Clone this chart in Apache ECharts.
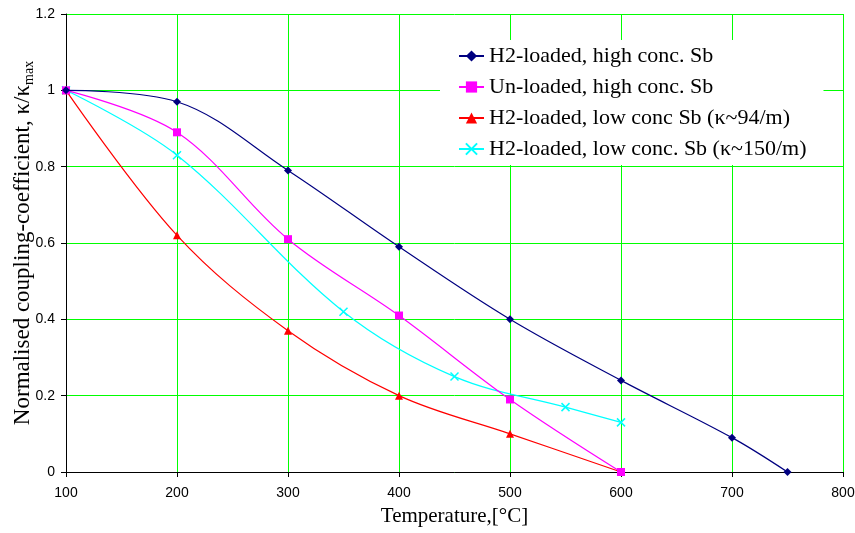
<!DOCTYPE html>
<html><head><meta charset="utf-8">
<script src="https://cdn.jsdelivr.net/npm/echarts@6/dist/echarts.min.js"></script>
<style>html,body{margin:0;padding:0;background:#fff}#c{width:855px;height:533px}</style>
</head><body><div id="c"></div>
<script>
const seriesNames = ['H2-loaded, high conc. Sb','Un-loaded, high conc. Sb','H2-loaded, low conc Sb (κ~94/m)','H2-loaded, low conc. Sb (κ~150/m)'];
const h2HighX = [100,200,300,400,500,600,700,750];
const h2HighY = [1,0.97,0.79,0.59,0.40,0.24,0.09,0];
const unHighX = [100,200,300,400,500,600];
const unHighY = [1,0.89,0.61,0.41,0.19,0];
const h2Low94X = [100,200,300,400,500,600];
const h2Low94Y = [1,0.62,0.37,0.20,0.10,0];
const h2Low150X = [100,200,350,450,550,600];
const h2Low150Y = [1,0.83,0.42,0.25,0.17,0.13];
const xTicks = [100,200,300,400,500,600,700,800];
const yTicks = [0,0.2,0.4,0.6,0.8,1,1.2];

const pair = (xs, ys) => xs.map((x,i)=>[x, ys[i]]);
const serif = 'Liberation Serif';
const sans = 'Liberation Sans';
const colors = ['#000080','#ff00ff','#ff0000','#00ffff'];
const symbols = ['diamond','rect','triangle','path://M0,0L10,10M10,0L0,10'];
const sizes = [8,8,8,8];
const data = [pair(h2HighX,h2HighY), pair(unHighX,unHighY), pair(h2Low94X,h2Low94Y), pair(h2Low150X,h2Low150Y)];

const chart = echarts.init(document.getElementById('c'));
chart.setOption({
  animation:false,
  backgroundColor:'#fff',
  grid:{left:66,right:12,top:14,bottom:61,containLabel:false,outerBoundsMode:'none'},
  legend:{
    left:440, top:40, orient:'vertical',
    backgroundColor:'#fff',
    padding:[5,17,5,18],
    itemWidth:25, itemHeight:14, itemGap:9,
    textStyle:{fontFamily:serif,fontSize:22,color:'#000'},
    data:seriesNames
  },
  xAxis:{
    type:'value', min:xTicks[0], max:xTicks[xTicks.length-1], interval:100,
    name:'Temperature,[°C]', nameLocation:'middle', nameGap:34, nameMoveOverlap:false,
    nameTextStyle:{fontFamily:serif,fontSize:21,color:'#000'},
    axisLine:{show:true,onZero:false,lineStyle:{color:'#000',width:1}},
    axisTick:{show:true,inside:false,length:5,lineStyle:{color:'#000'}},
    axisLabel:{fontFamily:sans,fontSize:14,color:'#000',margin:14},
    splitLine:{show:true,lineStyle:{color:'rgb(0,255,0)',width:1,opacity:1}}
  },
  yAxis:{
    type:'value', min:yTicks[0], max:yTicks[yTicks.length-1], interval:0.2,
    name:'{a|Normalised coupling-coefficient, κ/κ}{s|max}', nameLocation:'middle', nameGap:30, nameMoveOverlap:false,
    nameTextStyle:{
      color:'#000',
      rich:{
        a:{fontFamily:serif,fontSize:23,lineHeight:26,color:'#000'},
        s:{fontFamily:serif,fontSize:14,lineHeight:14,verticalAlign:'bottom',color:'#000'}
      }
    },
    axisLine:{show:true,onZero:false,lineStyle:{color:'#000',width:1}},
    axisTick:{show:true,inside:false,length:5,lineStyle:{color:'#000'}},
    axisLabel:{fontFamily:sans,fontSize:14,color:'#000',margin:11},
    splitLine:{show:true,lineStyle:{color:'rgb(0,255,0)',width:1,opacity:1}}
  },
  series: seriesNames.map((n,i)=>({
    name:n, type:'line', data:data[i], smooth:0.35,
    symbol:symbols[i], symbolSize:sizes[i], showSymbol:true,
    lineStyle:{color:colors[i],width:1.2},
    itemStyle: i===3 ? {color:colors[i],borderColor:colors[i],borderWidth:1.5} : {color:colors[i],borderWidth:0},
    z: 4-i
  }))
});
</script></body></html>
